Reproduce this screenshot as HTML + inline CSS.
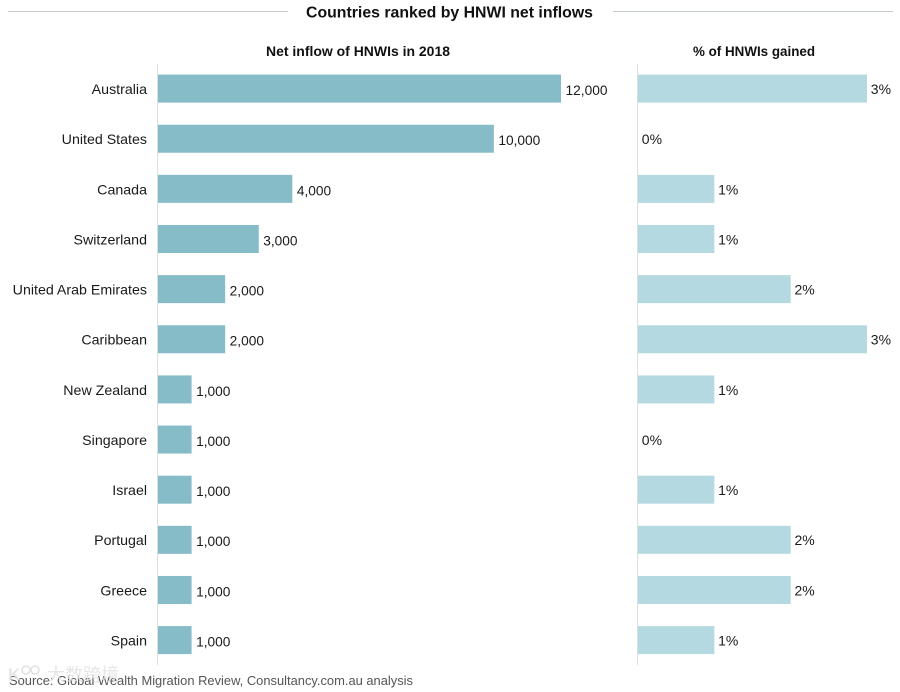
<!DOCTYPE html>
<html>
<head>
<meta charset="utf-8">
<style>
html,body{margin:0;padding:0;background:#fff;}
#chart{display:block;width:900px;height:692px;font-family:"Liberation Sans","Noto Sans CJK SC",sans-serif;color:#111;}
text{font-family:"Liberation Sans","Noto Sans CJK SC",sans-serif;}
</style>
</head>
<body>
<svg id="chart" width="900" height="692" viewBox="0 0 900 692" xmlns="http://www.w3.org/2000/svg">
  <line x1="8" y1="11.5" x2="288" y2="11.5" stroke="#c4c8c8" stroke-width="1"/>
  <line x1="613" y1="11.5" x2="893" y2="11.5" stroke="#c2cbc4" stroke-width="1"/>
  <text x="449.5" y="17.5" text-anchor="middle" font-size="15.5" font-weight="700" fill="#111" textLength="287" lengthAdjust="spacingAndGlyphs">Countries ranked by HNWI net inflows</text>
  <text x="358" y="56" text-anchor="middle" font-size="14" font-weight="700" fill="#111" textLength="184" lengthAdjust="spacingAndGlyphs">Net inflow of HNWIs in 2018</text>
  <text x="754" y="56" text-anchor="middle" font-size="14" font-weight="700" fill="#111" textLength="122" lengthAdjust="spacingAndGlyphs">% of HNWIs gained</text>
  <line x1="157.5" y1="64" x2="157.5" y2="665" stroke="#dcdfe0" stroke-width="1"/>
  <line x1="637.5" y1="64" x2="637.5" y2="665" stroke="#dcdfe0" stroke-width="1"/>
  <g id="rows"></g>
  <text x="9" y="685" font-size="12.5" fill="#555" textLength="404" lengthAdjust="spacingAndGlyphs">Source: Global Wealth Migration Review, Consultancy.com.au analysis</text>
  <g>
    <text x="8" y="680" font-size="17" font-weight="700" fill="#e2e2e2" fill-opacity="0.85">K</text>
    <circle cx="26" cy="670" r="4" fill="none" stroke="#e2e2e2" stroke-width="1.5"/>
    <circle cx="35" cy="670" r="4" fill="none" stroke="#e2e2e2" stroke-width="1.5"/>
    <text x="47" y="681" font-size="18" fill="#e2e2e2" fill-opacity="0.85">大数跨境</text>
  </g>
</svg>
<script>
const categories = ["Australia","United States","Canada","Switzerland","United Arab Emirates","Caribbean","New Zealand","Singapore","Israel","Portugal","Greece","Spain"];
const netInflow = [12000,10000,4000,3000,2000,2000,1000,1000,1000,1000,1000,1000];
const pctGained = [3,0,1,1,2,3,1,0,1,2,2,1];

const svgNS = "http://www.w3.org/2000/svg";
const group = document.getElementById("rows");
const xLeft = v => 158 + v * (403 / 12000);
const xRight = v => 638 + v * (229 / 3);
const yCenter = i => 88.6 + i * (551.5 / 11);
const barH = 28;
const fmt = v => v.toLocaleString("en-US");

function addText(str, x, y, anchor, name, scale) {
  const t = document.createElementNS(svgNS, "text");
  
  
  t.setAttribute("x", x);
  t.setAttribute("y", y);
  t.setAttribute("font-size", "14");
  t.setAttribute("fill", "#1a1a1a");
  t.setAttribute("text-anchor", anchor);
  t.textContent = str;
  group.appendChild(t);
  const w = t.getComputedTextLength();
  t.setAttribute("textLength", (w * scale).toFixed(1));
  t.setAttribute("lengthAdjust", "spacingAndGlyphs");
  return t;
}
function addBar(x0, x1, cy, fill, name) {
  const r = document.createElementNS(svgNS, "rect");
  
  
  r.setAttribute("x", x0);
  r.setAttribute("y", cy - barH / 2);
  r.setAttribute("width", Math.max(0, x1 - x0));
  r.setAttribute("height", barH);
  r.setAttribute("fill", fill);
  group.appendChild(r);
}
categories.forEach((c, i) => {
  const cy = yCenter(i);
  const slug = c.toLowerCase().replace(/\s+/g, "-");
  addText(c, 147, cy + 5.4, "end", "category-label-" + slug, 1.015);
  addBar(xLeft(0), xLeft(netInflow[i]), cy, "#86bbc8", "net-inflow-bar-" + slug);
  addText(fmt(netInflow[i]), xLeft(netInflow[i]) + 4.5, cy + 6.4, "start", "net-inflow-value-" + slug, 0.98);
  if (pctGained[i] > 0) {
    addBar(xRight(0), xRight(pctGained[i]), cy, "#b5d9e0", "pct-gained-bar-" + slug);
  }
  addText(pctGained[i] + "%", xRight(pctGained[i]) + 3.8, cy + 5.4, "start", "pct-gained-value-" + slug, 1.0);
});
</script>
</body>
</html>
